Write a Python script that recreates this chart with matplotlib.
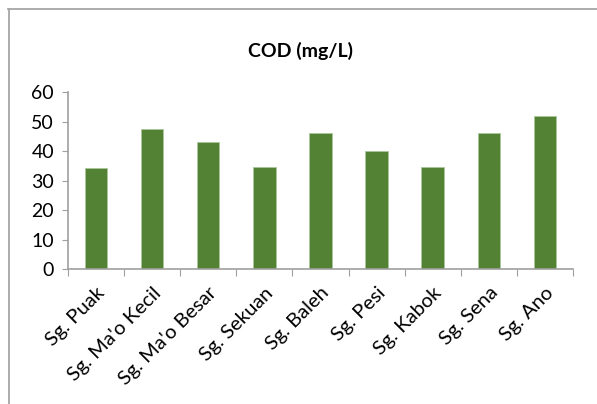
import numpy as np
import matplotlib.pyplot as plt
from matplotlib.lines import Line2D

# COD per river
rivers = ["Sg. Puak", "Sg. Ma'o Kecil", "Sg. Ma'o Besar", "Sg. Sekuan",
          "Sg. Baleh", "Sg. Pesi", "Sg. Kabok", "Sg. Sena", "Sg. Ano"]
cod = [34.5, 47.5, 43.3, 34.6, 46.2, 40.2, 34.6, 46.2, 52.1]
yticks = [0, 10, 20, 30, 40, 50, 60]

plt.rcParams['font.family'] = ['Lato', 'DejaVu Sans']

fig = plt.figure(figsize=(5.97, 4.04), dpi=100)
ax = fig.add_axes([0.1139, 0.3334, 0.8459, 0.4381])

x = np.arange(len(rivers))
ax.bar(x, cod, width=0.4, color="#548235", edgecolor="#a9c79a", linewidth=0.6)

ax.set_xlim(-0.5, len(rivers) - 0.5)
ax.set_ylim(0, 60)
ax.set_yticks(yticks)
ax.tick_params(axis="y", labelsize=14, length=4, color="#a0a0a0", pad=6)

# category ticks sit between the bars
ax.set_xticks(np.arange(len(rivers) + 1) - 0.5)
ax.set_xticklabels([])
ax.tick_params(axis="x", length=5, color="#a0a0a0")
for i, name in enumerate(rivers):
    ax.text(i + 0.0, -5.0, name, rotation=45, ha="right", va="top",
            rotation_mode="anchor", fontsize=14.5)

for side in ["top", "right"]:
    ax.spines[side].set_visible(False)
for side in ["left", "bottom"]:
    ax.spines[side].set_color("#a0a0a0")
    ax.spines[side].set_linewidth(1.2)

fig.text(0.503, 0.875, "COD (mg/L)", ha="center", va="center",
         fontsize=14, fontweight="bold")

# outer chart frame
fig.add_artist(Line2D([8.5 / 597, 8.5 / 597], [0, 1 - 9 / 404],
                      transform=fig.transFigure, color="#a6a6a6", lw=1.3))
fig.add_artist(Line2D([8 / 597, 1], [1 - 9 / 404, 1 - 9 / 404],
                      transform=fig.transFigure, color="#a6a6a6", lw=1.3))

fig.savefig("out.png", dpi=100)
